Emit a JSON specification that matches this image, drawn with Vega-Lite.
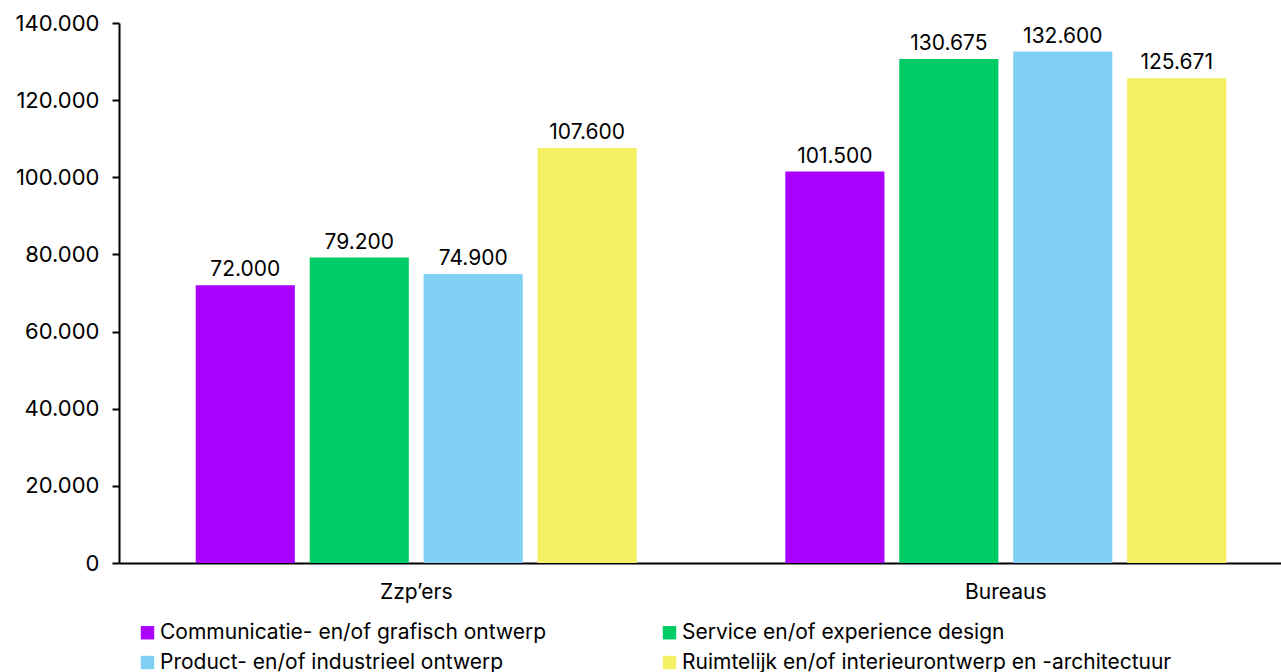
{
  "$schema": "https://vega.github.io/schema/vega-lite/v6.json",
  "autosize": "none",
  "padding": {"left": 119, "top": 23, "right": 0, "bottom": 109},
  "width": 1184,
  "height": 540,
  "background": "white",
  "config": {
    "locale": {"number": {"decimal": ",", "thousands": ".", "grouping": [3], "currency": ["€", ""]}},
    "font": "Inter",
    "view": {"stroke": null}
  },
  "data": {
    "values": [
      {"groep": "Zzp’ers", "categorie": "Communicatie- en/of grafisch ontwerp", "waarde": 72000},
      {"groep": "Zzp’ers", "categorie": "Service en/of experience design", "waarde": 79200},
      {"groep": "Zzp’ers", "categorie": "Product- en/of industrieel ontwerp", "waarde": 74900},
      {"groep": "Zzp’ers", "categorie": "Ruimtelijk en/of interieurontwerp en -architectuur", "waarde": 107600},
      {"groep": "Bureaus", "categorie": "Communicatie- en/of grafisch ontwerp", "waarde": 101500},
      {"groep": "Bureaus", "categorie": "Service en/of experience design", "waarde": 130675},
      {"groep": "Bureaus", "categorie": "Product- en/of industrieel ontwerp", "waarde": 132600},
      {"groep": "Bureaus", "categorie": "Ruimtelijk en/of interieurontwerp en -architectuur", "waarde": 125671}
    ]
  },
  "encoding": {
    "x": {
      "field": "groep", "type": "nominal", "sort": ["Zzp’ers", "Bureaus"],
      "scale": {"paddingInner": 0.252, "paddingOuter": 0.1301},
      "axis": {"title": null, "labelAngle": 0, "ticks": false, "domainColor": "black", "domainWidth": 2, "labelFontSize": 21, "labelColor": "black", "labelPadding": 18, "labelFont": "Inter"}
    },
    "xOffset": {
      "field": "categorie", "type": "nominal",
      "sort": ["Communicatie- en/of grafisch ontwerp", "Service en/of experience design", "Product- en/of industrieel ontwerp", "Ruimtelijk en/of interieurontwerp en -architectuur"],
      "scale": {"paddingInner": 0.13, "paddingOuter": 0}
    },
    "y": {
      "field": "waarde", "type": "quantitative",
      "scale": {"domain": [0, 140000], "nice": false},
      "axis": {"title": null, "values": [0, 20000, 40000, 60000, 80000, 100000, 120000, 140000], "format": ",.0f", "grid": false, "domainColor": "black", "domainWidth": 2, "tickColor": "black", "tickWidth": 2, "tickSize": 7, "labelPadding": 13, "labelFontSize": 22, "labelColor": "black", "labelFont": "Inter"}
    }
  },
  "layer": [
    {
      "mark": {"type": "bar"},
      "encoding": {
        "color": {
          "field": "categorie", "type": "nominal",
          "sort": ["Communicatie- en/of grafisch ontwerp", "Service en/of experience design", "Product- en/of industrieel ontwerp", "Ruimtelijk en/of interieurontwerp en -architectuur"],
          "scale": {"range": ["#AA00FF", "#00CC66", "#7FD0F2", "#F5EF62"]},
          "legend": {
            "title": null, "orient": "none", "legendX": 18, "legendY": 599, "direction": "horizontal", "columns": 2,
            "symbolType": "square", "symbolSize": 180, "symbolStrokeWidth": 0, "labelFontSize": 21, "labelColor": "black", "labelFont": "Inter",
            "labelLimit": 600, "columnPadding": 112, "rowPadding": 8, "labelOffset": 2
          }
        }
      }
    },
    {
      "mark": {"type": "text", "baseline": "bottom", "dy": -5, "fontSize": 21, "color": "black", "font": "Inter"},
      "encoding": {
        "text": {"field": "waarde", "type": "quantitative", "format": ",.0f"}
      }
    }
  ]
}
